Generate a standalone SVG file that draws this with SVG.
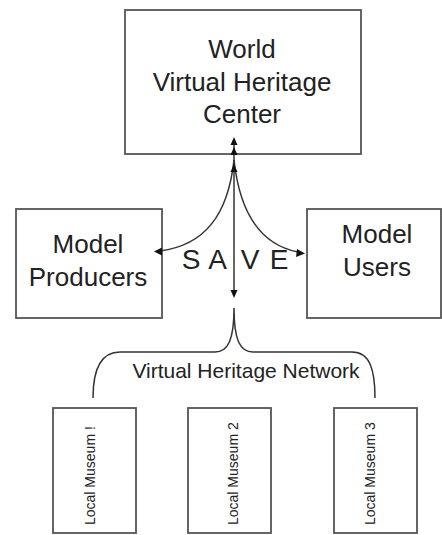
<svg xmlns="http://www.w3.org/2000/svg" width="442" height="535" viewBox="0 0 442 535">
<style>
.box{fill:#fff;stroke:#555;stroke-width:1.8}
.t{font-family:"Liberation Sans",Arial,sans-serif;fill:#222;text-anchor:middle}
.big{font-size:26px}
.save{font-size:28px}
.net{font-size:21px}
.lm{font-family:"Liberation Sans",Arial,sans-serif;fill:#222;font-size:14px;text-anchor:start}
.ln{fill:none;stroke:#333;stroke-width:1.5}
.ah{fill:#111}
</style>
<rect width="442" height="535" fill="#fff"/>
<g id="world-center">
<rect class="box" x="125" y="10" width="236" height="144"/>
<text class="t big" x="242" y="58">World</text>
<text class="t big" x="242" y="91">Virtual Heritage</text>
<text class="t big" x="242" y="123">Center</text>
</g>
<g id="model-producers">
<rect class="box" x="16" y="209" width="146" height="109"/>
<text class="t big" x="88" y="253">Model</text>
<text class="t big" x="88" y="286">Producers</text>
</g>
<g id="model-users">
<rect class="box" x="307" y="209" width="134" height="109"/>
<text class="t big" x="377" y="243">Model</text>
<text class="t big" x="377" y="276">Users</text>
</g>
<g id="local-museum-1">
<rect class="box" x="53" y="408" width="83" height="125"/>
<text class="lm" transform="translate(95,525) rotate(-90)">Local Museum !</text>
</g>
<g id="local-museum-2">
<rect class="box" x="188" y="408" width="83" height="125"/>
<text class="lm" transform="translate(238,525) rotate(-90)">Local Museum 2</text>
</g>
<g id="local-museum-3">
<rect class="box" x="334" y="408" width="83" height="125"/>
<text class="lm" transform="translate(375,525) rotate(-90)">Local Museum 3</text>
</g>
<g id="connectors">
<path class="ln" d="M234,140 L234,292"/>
<path class="ln" d="M234,160 C228,215 205,245 160,251"/>
<path class="ln" d="M234,160 C240,215 262,245 298,252"/>
<polygon class="ah" points="234,137 230.5,145 237.5,145"/>
<polygon class="ah" points="234,147 230.5,155 237.5,155"/>
<polygon class="ah" points="234,164 230.5,172 237.5,172"/>
<polygon class="ah" points="234,298 230.5,290 237.5,290"/>
<polygon class="ah" points="154,251.5 162,247.5 162,255.5"/>
<polygon class="ah" points="305,253.5 297,249 296,257"/>
<path class="ln" d="M93,398 C93,370 100,352 120,352 L215,352 C228,352 234,340 234,308 C234,340 240,352 253,352 L352,352 C370,352 375,370 375,398"/>
<text class="t save" x="191" y="269">S</text>
<text class="t save" x="217.5" y="269">A</text>
<text class="t save" x="250" y="269">V</text>
<text class="t save" x="279" y="269">E</text>
<text class="t net" x="246" y="378">Virtual Heritage Network</text>
</g>
</svg>
